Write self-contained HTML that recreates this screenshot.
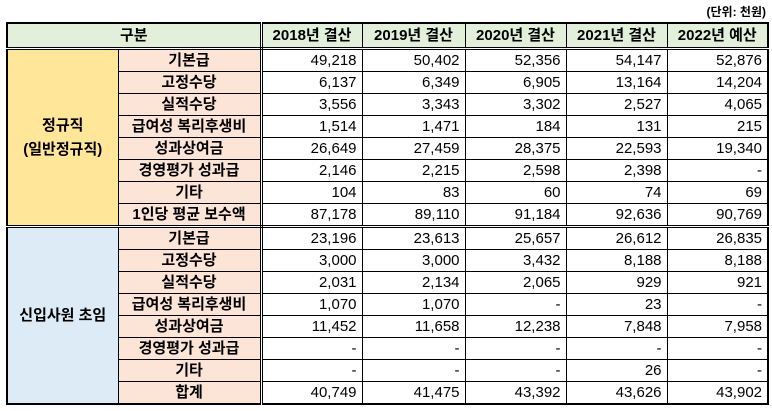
<!DOCTYPE html>
<html><head><meta charset="utf-8"><style>
body{margin:0;width:772px;height:411px;background:#fff;position:relative;font-family:"Liberation Sans","Noto Sans CJK KR",sans-serif;}
.unit{position:absolute;right:6px;top:3px;font-size:12px;font-weight:bold;}
table{position:absolute;left:6px;top:22px;border-collapse:collapse;table-layout:fixed;width:761px;border:2px solid #000;font-size:15px;}
td{border:1px solid #000;padding:0 4px;height:21px;line-height:20px;white-space:nowrap;overflow:hidden;}
.h td{background:#e2efda;font-weight:bold;text-align:center;height:23px;border-bottom:3px double #000;font-size:15px;}
.g1{background:#ffe699;text-align:center;font-weight:bold;line-height:24px;}
.g2{background:#ddebf7;text-align:center;font-weight:bold;}
.it{background:#fce4d6;text-align:center;font-weight:bold;}
.v{text-align:right;padding-right:5px;}
.sep td{border-bottom:3px double #000;}
.h td.s,td.s{border-right:3px double #000;}
</style></head><body>
<div class="unit">(단위: 천원)</div>
<table>
<colgroup><col style="width:111px"><col style="width:143px"><col style="width:101px"><col style="width:103px"><col style="width:101px"><col style="width:101px"><col style="width:101px"></colgroup>
<tr class="h"><td colspan="2" class="s">구분</td><td>2018년 결산</td><td>2019년 결산</td><td>2020년 결산</td><td>2021년 결산</td><td>2022년 예산</td></tr>
<tr><td class="g1" rowspan="8" style="border-bottom:3px double #000">정규직<br>(일반정규직)</td><td class="it s">기본급</td><td class="v">49,218</td><td class="v">50,402</td><td class="v">52,356</td><td class="v">54,147</td><td class="v">52,876</td></tr>
<tr><td class="it s">고정수당</td><td class="v">6,137</td><td class="v">6,349</td><td class="v">6,905</td><td class="v">13,164</td><td class="v">14,204</td></tr>
<tr><td class="it s">실적수당</td><td class="v">3,556</td><td class="v">3,343</td><td class="v">3,302</td><td class="v">2,527</td><td class="v">4,065</td></tr>
<tr><td class="it s">급여성 복리후생비</td><td class="v">1,514</td><td class="v">1,471</td><td class="v">184</td><td class="v">131</td><td class="v">215</td></tr>
<tr><td class="it s">성과상여금</td><td class="v">26,649</td><td class="v">27,459</td><td class="v">28,375</td><td class="v">22,593</td><td class="v">19,340</td></tr>
<tr><td class="it s">경영평가 성과급</td><td class="v">2,146</td><td class="v">2,215</td><td class="v">2,598</td><td class="v">2,398</td><td class="v">-</td></tr>
<tr><td class="it s">기타</td><td class="v">104</td><td class="v">83</td><td class="v">60</td><td class="v">74</td><td class="v">69</td></tr>
<tr class="sep"><td class="it s">1인당 평균 보수액</td><td class="v">87,178</td><td class="v">89,110</td><td class="v">91,184</td><td class="v">92,636</td><td class="v">90,769</td></tr>
<tr><td class="g2" rowspan="8">신입사원 초임</td><td class="it s">기본급</td><td class="v">23,196</td><td class="v">23,613</td><td class="v">25,657</td><td class="v">26,612</td><td class="v">26,835</td></tr>
<tr><td class="it s">고정수당</td><td class="v">3,000</td><td class="v">3,000</td><td class="v">3,432</td><td class="v">8,188</td><td class="v">8,188</td></tr>
<tr><td class="it s">실적수당</td><td class="v">2,031</td><td class="v">2,134</td><td class="v">2,065</td><td class="v">929</td><td class="v">921</td></tr>
<tr><td class="it s">급여성 복리후생비</td><td class="v">1,070</td><td class="v">1,070</td><td class="v">-</td><td class="v">23</td><td class="v">-</td></tr>
<tr><td class="it s">성과상여금</td><td class="v">11,452</td><td class="v">11,658</td><td class="v">12,238</td><td class="v">7,848</td><td class="v">7,958</td></tr>
<tr><td class="it s">경영평가 성과급</td><td class="v">-</td><td class="v">-</td><td class="v">-</td><td class="v">-</td><td class="v">-</td></tr>
<tr><td class="it s">기타</td><td class="v">-</td><td class="v">-</td><td class="v">-</td><td class="v">26</td><td class="v">-</td></tr>
<tr><td class="it s">합계</td><td class="v">40,749</td><td class="v">41,475</td><td class="v">43,392</td><td class="v">43,626</td><td class="v">43,902</td></tr>
</table>
</body></html>
